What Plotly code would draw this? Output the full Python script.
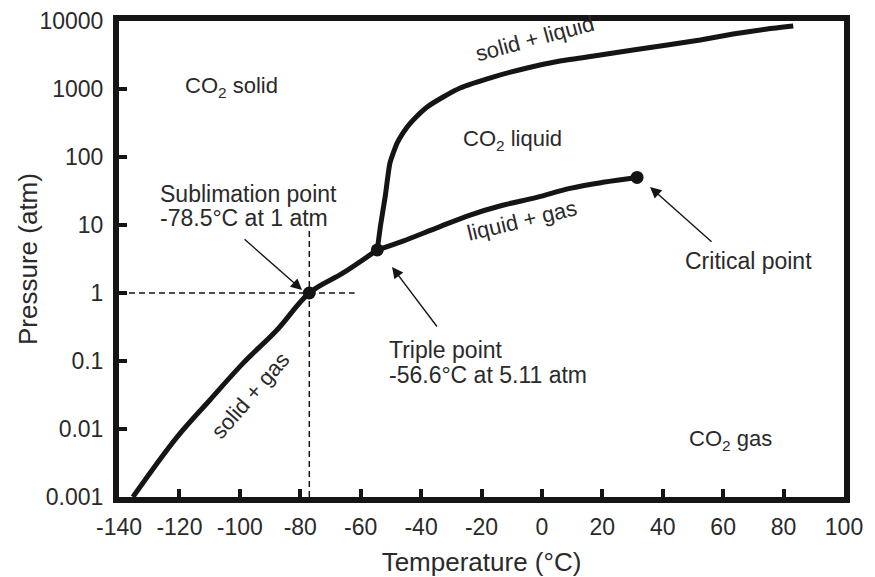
import plotly.graph_objects as go

# ---- data ----
solid_gas_T = [-135.4, -120.8, -109.9, -98.9, -87.7, -77, -65.8, -54.5]
solid_gas_P = [0.001, 0.0076, 0.0267, 0.093, 0.286, 1.0, 1.97, 4.3]

liquid_gas_T = [-54.5, -46, -35, -24, -13, -1.7, 9.3, 20.2, 31.5]
liquid_gas_P = [4.3, 5.8, 9.0, 13.9, 19.5, 25.5, 34.6, 42.4, 50]

solid_liquid_T = [-54.5, -53.4, -51.9, -50.3, -47.9, -44.6, -42.6, -38.0, -32.7, -27.1,
                  -16.2, -4.9, 6.0, 19.3, 30.2, 41.5, 52.4, 63.3, 74.6, 83.2]
solid_liquid_P = [4.3, 10, 25.8, 81.7, 161, 276, 350, 543, 762, 1035,
                  1500, 2040, 2580, 3160, 3750, 4440, 5260, 6440, 7620, 8440]

points_T = [-77, -54.5, 31.5]          # sublimation, triple, critical
points_P = [1.0, 4.3, 50]

sub_vline_T = [-77, -77]
sub_vline_P = [0.001, 9.0]
sub_hline_T = [-140, -62]
sub_hline_P = [1.0, 1.0]

x_ticks = [-140, -120, -100, -80, -60, -40, -20, 0, 20, 40, 60, 80, 100]
x_ticktext = ["-140", "-120", "-100", "-80", "-60", "-40", "-20", "0", "20", "40", "60", "80", "100"]
y_ticks = [0.001, 0.01, 0.1, 1, 10, 100, 1000, 10000]
y_ticktext = ["0.001", "0.01", "0.1", "1", "10", "100", "1000", "10000"]

INK = "#151515"
TXT = "#2a2a2a"
FONT = "Liberation Sans, Arial, sans-serif"

fig = go.Figure()

for T, P, sm in [(solid_gas_T, solid_gas_P, 1.0), (liquid_gas_T, liquid_gas_P, 1.0),
                 (solid_liquid_T, solid_liquid_P, 0.5)]:
    fig.add_trace(go.Scatter(x=T, y=P, mode="lines",
                             line=dict(color=INK, width=5, shape="spline", smoothing=sm),
                             hoverinfo="skip", showlegend=False))

for T, P in [(sub_vline_T, sub_vline_P), (sub_hline_T, sub_hline_P)]:
    fig.add_trace(go.Scatter(x=T, y=P, mode="lines",
                             line=dict(color=INK, width=1.5, dash="6px,4px"),
                             hoverinfo="skip", showlegend=False))

fig.add_trace(go.Scatter(x=points_T, y=points_P, mode="markers",
                         marker=dict(color=INK, size=13),
                         hoverinfo="skip", showlegend=False))

ann = []
def txt(x, P_log, text, size=23, angle=0, xanchor="center"):
    ann.append(dict(x=x, y=P_log, xref="x", yref="y", text=text, showarrow=False,
                    textangle=angle, xanchor=xanchor, yanchor="middle",
                    font=dict(family=FONT, size=size, color=TXT)))

txt(-102.6, 3.03, "CO<sub>2</sub> solid", 22)
txt(-9.9, 2.25, "CO<sub>2</sub> liquid", 22)
txt(62.3, -2.16, "CO<sub>2</sub> gas", 22)
txt(-127.1, 1.456, "Sublimation point", 23, xanchor="left")
txt(-127.1, 1.103, "-78.5°C at 1 atm", 23, xanchor="left")
txt(-51.3, -0.838, "Triple point", 23, xanchor="left")
txt(-51.3, -1.206, "-56.6°C at 5.11 atm", 23, xanchor="left")
txt(46.8, 0.47, "Critical point", 23, xanchor="left")
txt(-2.25, 3.74, "solid + liquid", 22, angle=-15)
txt(-6.6, 1.07, "liquid + gas", 22, angle=-13.5)
txt(-96.6, -1.5, "solid + gas", 22, angle=-49)

for hx, hy, ax, ay in [(-79.4, 0.044, -59, -52), (-49.6, 0.382, 46, 61), (35.8, 1.559, 63, 56)]:
    ann.append(dict(x=hx, y=hy, xref="x", yref="y", ax=ax, ay=ay, axref="pixel", ayref="pixel",
                    text="", showarrow=True, arrowhead=2, arrowsize=1.6, arrowwidth=1.4,
                    arrowcolor=INK))

# y-axis title placed close to the tick labels, as in the reference
ann.append(dict(x=0, y=0.5, xref="paper", yref="paper", xshift=-91, text="Pressure (atm)",
                showarrow=False, textangle=-90, xanchor="center", yanchor="middle",
                font=dict(family=FONT, size=26, color=TXT)))

# page body has an 8px default margin, so the figure is sized/offset to compensate
fig.update_layout(
    width=867, height=569,
    margin=dict(l=111, r=31, t=13, b=80),
    paper_bgcolor="white", plot_bgcolor="white",
    font=dict(family=FONT, color=TXT),
    annotations=ann,
    showlegend=False,
)
fig.update_xaxes(range=[-140, 100], tickvals=x_ticks, ticktext=x_ticktext,
                 showgrid=False, zeroline=False, automargin=False,
                 showline=True, linewidth=6, linecolor=INK, mirror=True,
                 ticks="inside", ticklen=8, tickwidth=4, tickcolor=INK,
                 ticklabelstandoff=4,
                 tickfont=dict(size=23, color=TXT, family=FONT),
                 title=dict(text="Temperature (°C)", font=dict(size=26, color=TXT, family=FONT),
                            standoff=22))
fig.update_yaxes(type="log", range=[-3, 4], tickvals=y_ticks, ticktext=y_ticktext,
                 showgrid=False, zeroline=False, automargin=False,
                 showline=True, linewidth=6, linecolor=INK, mirror=True,
                 ticks="inside", ticklen=8, tickwidth=4, tickcolor=INK,
                 ticklabelstandoff=5,
                 tickfont=dict(size=23, color=TXT, family=FONT))

fig.write_html("out.html")
